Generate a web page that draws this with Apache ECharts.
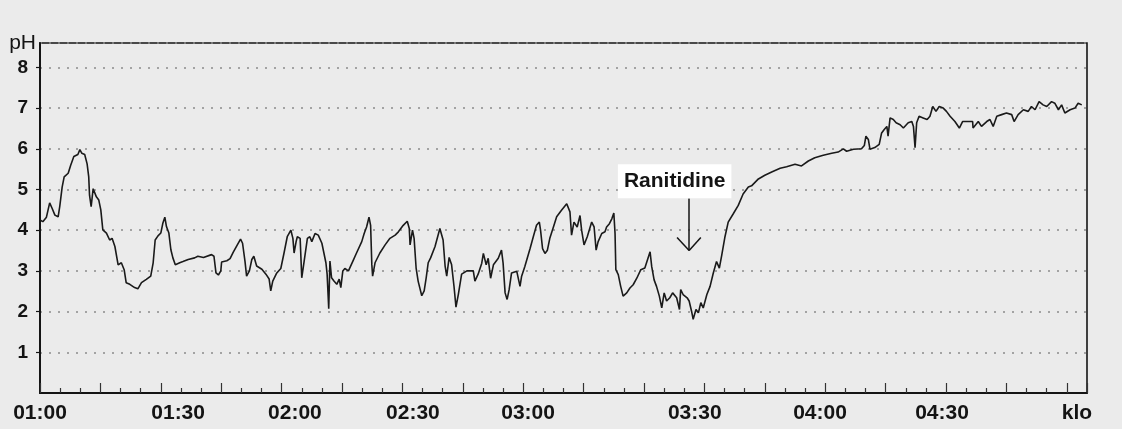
<!DOCTYPE html>
<html><head><meta charset="utf-8">
<script src="https://cdn.jsdelivr.net/npm/echarts@6/dist/echarts.min.js"></script>
<style>html,body{margin:0;padding:0;background:#ebebeb}#c{width:1122px;height:429px}</style>
</head><body><div id="c"></div>
<script>
// pH readings: [minutes after 01:00 (axis units), pH]
const segA = [[0,4.25],[0.7,4.21],[1.6,4.32],[2.4,4.67],[3.0,4.54],[3.7,4.37],[4.5,4.33],[4.9,4.58],[5.5,5.06],[6.0,5.31],[7.0,5.40],[7.6,5.59],[8.4,5.81],[9.4,5.86],[9.9,5.98],[10.4,5.89],[11.1,5.86],[11.7,5.63],[12.1,5.31],[12.3,4.86],[12.7,4.58],[13.2,5.02],[13.6,5.06],[14.0,4.82],[14.6,4.74],[15.1,4.50],[15.6,4.01],[16.5,3.93],[17.3,3.76],[17.9,3.80],[18.6,3.60],[19.4,3.15],[20.2,3.20],[20.9,3.03],[21.4,2.71],[22.3,2.67],[23.5,2.59],[24.3,2.56],[25.2,2.71],[26.4,2.79],[27.5,2.87],[28.1,3.20],[28.6,3.76],[29.3,3.86],[30.0,3.93],[30.5,4.17],[31.0,4.32],[31.4,4.09],[32.0,3.93],[32.5,3.52],[33.0,3.32],[33.6,3.15],[34.7,3.20],[35.5,3.23],[36.8,3.28],[38.4,3.32],[39.2,3.36]];
const segB = [[40.6,3.33],[42.6,3.40],[43.2,3.36],[43.7,2.95],[44.3,2.90],[44.9,3.00],[45.1,3.22],[46.4,3.25],[47.2,3.30],[48.0,3.46],[49.0,3.64],[49.8,3.78],[50.3,3.68],[50.9,3.24],[51.3,2.87],[52.0,3.00],[52.6,3.28],[53.1,3.36],[53.8,3.12],[55.1,3.04],[56.1,2.92],[56.9,2.80],[57.3,2.51],[57.8,2.75],[58.8,2.95],[59.8,3.06],[60.6,3.44],[61.4,3.84],[62.3,4.00],[62.8,3.80],[63.1,3.44],[63.6,3.72],[63.9,3.84],[64.6,3.80],[65.0,2.83],[65.6,3.24],[66.4,3.80],[67.0,3.84],[67.5,3.72],[68.3,3.92],[69.1,3.88],[70.0,3.68],[70.5,3.44],[71.0,3.20],[71.3,2.92],[71.7,2.07],[72.0,3.24],[72.4,2.83],[73.0,2.75],[73.7,2.67],[74.3,2.80],[74.7,2.59],[75.2,3.00],[75.7,3.06],[76.6,3.00],[77.7,3.24],[78.6,3.44],[79.9,3.72],[80.5,3.92],[81.1,4.08],[81.7,4.32],[82.1,4.12],[82.4,3.16],[82.6,2.87],[83.2,3.20],[84.4,3.44],[85.7,3.64],[86.9,3.80],[88.2,3.88],[89.0,3.96],[90.2,4.12],[91.2,4.22],[91.7,4.04],[91.9,3.64],[92.5,4.00],[92.9,3.80],[93.4,3.07],[93.9,2.75],[94.8,2.39],[95.4,2.51],[95.9,2.83],[96.4,3.20],[97.0,3.32],[98.1,3.60],[99.3,4.04],[100.1,3.76],[100.6,3.12],[101.0,2.87],[101.6,3.33],[102.2,3.16],[102.8,2.63],[103.3,2.11],[103.9,2.43],[104.7,2.92],[106.0,3.00],[107.6,3.00],[108.0,2.75],[108.8,2.92]];
const segC = [[109.7,3.19],[110.1,3.43],[110.8,3.15],[111.3,3.31],[111.9,2.82],[112.6,3.15],[113.8,3.31],[114.6,3.51],[115.0,3.19],[115.5,2.46],[116.0,2.30],[116.5,2.54],[117.1,2.95],[118.4,2.99],[119.2,2.62],[119.6,2.87],[120.4,3.11],[121.7,3.55],[122.5,3.84],[123.3,4.12],[124.0,4.20],[124.3,4.00],[124.8,3.55],[125.4,3.43],[126.0,3.51],[126.6,3.80],[127.5,4.08],[128.3,4.33],[129.5,4.49],[130.8,4.65],[131.2,4.65],[131.6,4.45],[132.0,3.88],[132.6,4.20],[133.4,4.08],[134.1,4.36],[134.5,4.00],[135.1,3.64],[135.9,3.84],[137.0,4.20],[137.6,4.08],[138.1,3.51],[138.6,3.72],[139.5,3.92],[140.3,3.96],[140.7,4.08],[141.4,4.16],[142.0,4.28],[142.5,4.42],[142.8,3.92],[143.0,3.03],[143.6,2.91],[144.2,2.62],[144.8,2.38],[145.7,2.46],[146.5,2.58],[147.3,2.66],[148.2,2.82],[149.2,3.03],[150.2,3.07],[151.1,3.35],[151.5,3.47],[151.9,3.11],[152.5,2.78],[153.1,2.62],[153.8,2.38],[154.4,2.09],[155.0,2.46],[155.6,2.26],[156.4,2.34],[157.1,2.46],[158.1,2.34],[158.8,2.05],[159.1,2.54],[159.7,2.42],[160.7,2.34],[161.2,2.26],[161.8,2.01],[162.2,1.81],[162.9,2.05],[163.5,1.97],[164.1,2.22],[164.7,2.09],[165.6,2.42],[166.4,2.62],[167.2,2.95],[168.0,3.23],[168.7,3.07],[169.3,3.39],[170.1,3.84],[170.9,4.20],[172.2,4.41],[173.4,4.61],[174.6,4.89],[175.9,5.06]];
const segD = [[176.7,5.09],[178.4,5.26],[180.0,5.35],[181.7,5.43],[183.8,5.52],[185.4,5.56],[187.5,5.62],[189.1,5.58],[190.8,5.70],[192.4,5.78],[194.5,5.84],[196.6,5.89],[198.2,5.92],[199.5,6.00],[200.3,5.94],[202.0,5.99],[204.0,6.00],[204.7,6.08],[205.1,6.31],[205.7,6.23],[206.1,5.99],[207.3,6.03],[208.4,6.11],[209.0,6.39],[209.6,6.47],[210.3,6.55],[210.6,6.31],[211.1,6.76],[211.9,6.72],[212.6,6.64],[213.6,6.59],[214.4,6.51],[215.6,6.64],[216.5,6.67],[216.9,6.55],[217.3,6.03],[217.7,6.64],[218.3,6.80],[219.3,6.76],[220.3,6.72],[221.0,6.80],[221.7,7.04],[222.5,6.92],[223.3,7.04],[224.3,7.00],[225.1,6.92],[226.0,6.80],[227.2,6.67],[228.3,6.51],[229.1,6.67],[230.5,6.67],[231.6,6.67],[231.7,6.51],[233.0,6.67],[233.8,6.55],[235.1,6.67],[235.9,6.72],[236.7,6.55],[237.6,6.80],[238.8,6.84],[240.0,6.88],[241.3,6.84],[241.9,6.67],[242.9,6.84],[244.2,6.96],[245.4,6.92],[246.2,7.04],[247.1,6.96],[248.1,7.16],[249.1,7.08],[250.0,7.04],[251.2,7.16],[252.0,7.12],[252.9,6.96],[253.7,7.08],[254.5,6.88],[255.8,6.96],[257.0,7.00],[257.8,7.12],[258.7,7.08]];

const tickLabels = ['01:00','01:30','02:00','02:30','03:00','03:30','04:00','04:30','klo'];
const tickLabelMinutes = [0,34.3,63.3,92.6,121.2,162.6,193.7,224.0,257.5];

const annotation = 'Ranitidine';
const annotationAt = [157.6, 5.20];
const arrowFrom = [161.2, 4.78];
const arrowTo = [161.2, 3.50];
const arrowArmLeft = [158.2, 3.82];
const arrowArmRight = [164.1, 3.82];

const chart = echarts.init(document.getElementById('c'));
const data = segA.concat(segB, segC, segD);
const ink = '#141414';
chart.setOption({
  backgroundColor: '#ebebeb',
  animation: false,
  grid: {left: 40, right: 35, top: 43, bottom: 36, show: true, borderColor: ink, borderWidth: 1.6, backgroundColor: 'transparent'},
  xAxis: {
    type: 'value', min: 0, max: 260, interval: 15,
    axisLine: {onZero: false, lineStyle: {color: ink, width: 2}},
    axisTick: {inside: true, length: 10, lineStyle: {color: '#333', width: 1.2}},
    minorTick: {show: true, splitNumber: 3, length: 5, lineStyle: {color: '#333', width: 1.2}},
    splitLine: {show: false},
    axisLabel: {
      customValues: tickLabelMinutes,
      formatter: function (v) {
        let best = 0;
        for (let i = 1; i < tickLabelMinutes.length; i++) {
          if (Math.abs(tickLabelMinutes[i] - v) < Math.abs(tickLabelMinutes[best] - v)) best = i;
        }
        return tickLabels[best];
      },
      fontFamily: '"Liberation Sans", Arial, sans-serif', fontWeight: 'bold', fontSize: 21, color: ink, margin: 10
    }
  },
  yAxis: {
    type: 'value', min: 0, max: 8.6, interval: 1,
    name: 'pH', nameLocation: 'end', nameGap: 0,
    nameTextStyle: {fontFamily: '"Liberation Sans", Arial, sans-serif', fontSize: 21, color: ink, align: 'right', verticalAlign: 'middle', padding: [0, 4, 4, 0]},
    axisLine: {show: true, lineStyle: {color: ink, width: 2}},
    axisTick: {show: true, length: 4, lineStyle: {color: ink, width: 1.2}},
    splitLine: {show: true, lineStyle: {color: '#8c8c8c', type: [2, 7], width: 1.5}},
    axisLabel: {showMinLabel: false, showMaxLabel: false, margin: 12,
      fontFamily: '"Liberation Sans Narrow", "Liberation Sans", Arial, sans-serif', fontWeight: 'bold', fontSize: 19, color: ink}
  },
  series: [{
    type: 'line', data: data, symbol: 'none', showSymbol: false,
    lineStyle: {color: '#1a1a1a', width: 1.6},
    markLine: {
      silent: true, symbol: ['none', 'none'], animation: false,
      lineStyle: {color: ink, width: 1.5, type: 'solid'}, label: {show: false},
      data: [
        [{coord: arrowFrom}, {coord: arrowTo}],
        [{coord: arrowArmLeft}, {coord: arrowTo}],
        [{coord: arrowArmRight}, {coord: arrowTo}]
      ]
    },
    markPoint: {
      silent: true, symbol: 'rect', symbolSize: 1, itemStyle: {color: 'transparent'}, animation: false,
      label: {show: true, position: 'inside', formatter: annotation, backgroundColor: '#ffffff', padding: [7, 6, 6, 6],
        fontFamily: '"Liberation Sans", Arial, sans-serif', fontWeight: 'bold', fontSize: 21, color: ink},
      data: [{coord: annotationAt}]
    }
  }]
});
</script>
</body></html>
